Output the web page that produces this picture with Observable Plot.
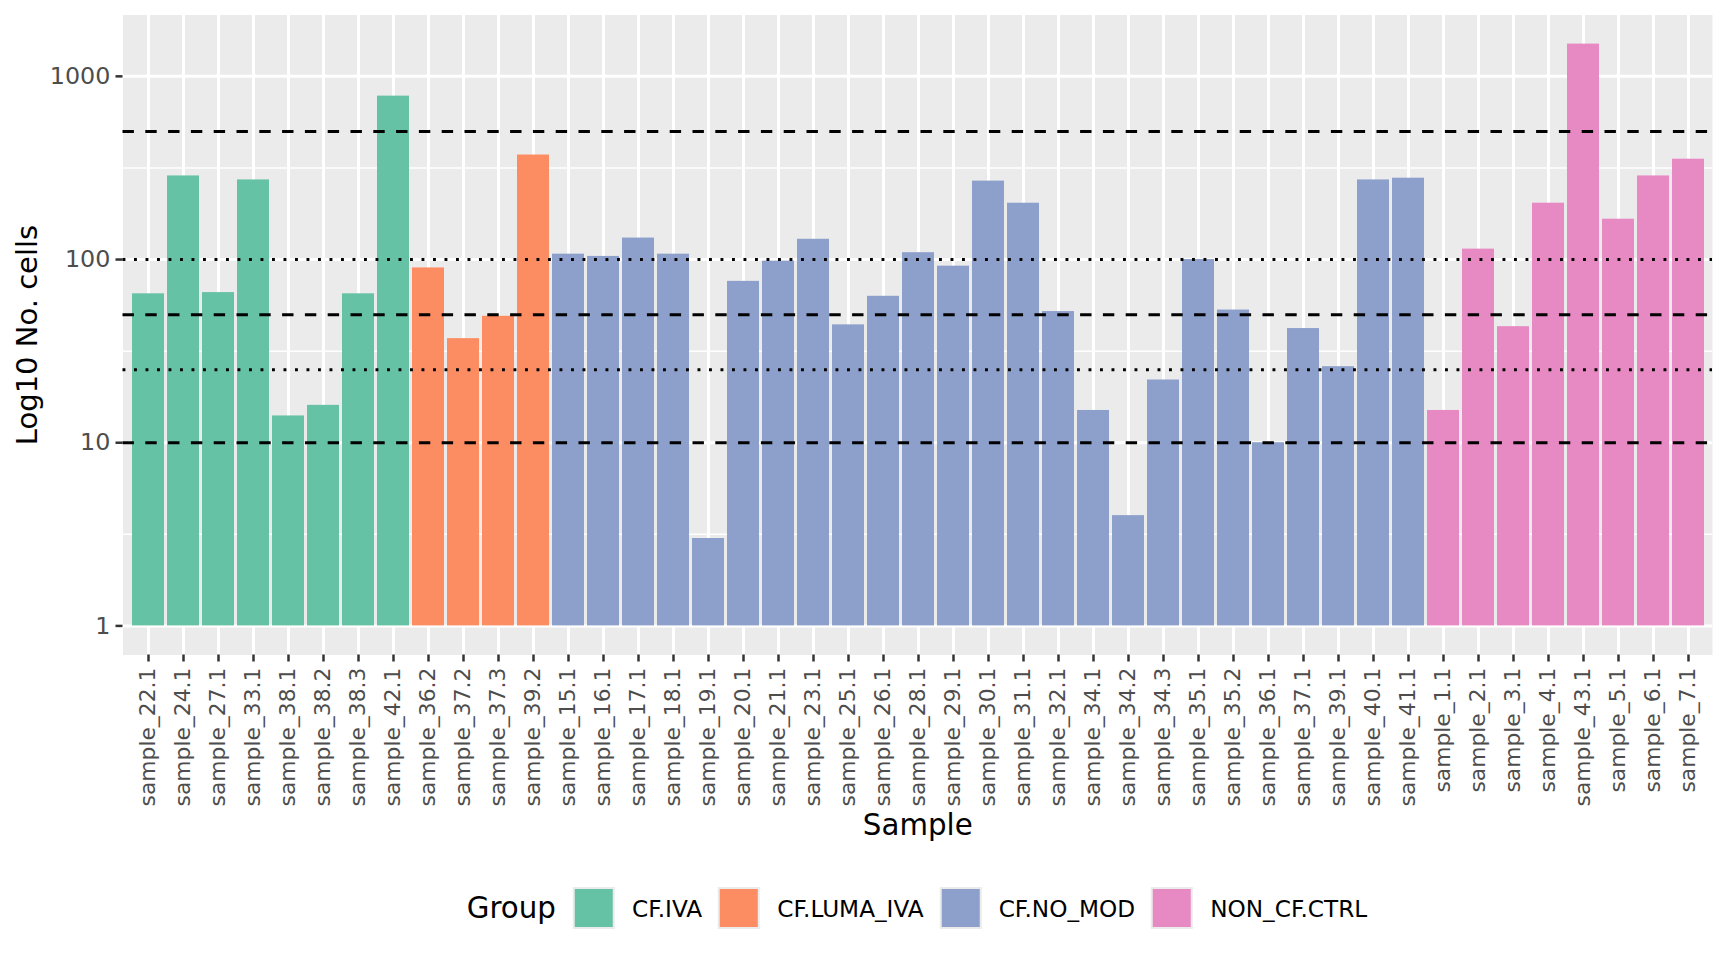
<!DOCTYPE html>
<html>
<head>
<meta charset="utf-8">
<script src="https://cdn.jsdelivr.net/npm/d3@7"></script>
<script src="https://cdn.jsdelivr.net/npm/@observablehq/plot@0.6"></script>
<style>
  html, body { margin: 0; padding: 0; background: #ffffff; }
  body { font-family: "DejaVu Sans", sans-serif; }
  #wrap { position: relative; width: 1728px; height: 960px; overflow: hidden; background: #fff; }
  #wrap svg { position: absolute; left: 0; top: 0; }
  #legend { position: absolute; top: 887px; left: 917px; transform: translateX(-50%);
            display: flex; align-items: center; white-space: nowrap; }
  #legend .ttl { font-size: 29.3px; color: #000; margin-right: 17px; }
  #legend .key { width: 42px; height: 42px; background: #EBEBEB; padding: 2px; box-sizing: border-box; }
  #legend .key div { width: 100%; height: 100%; }
  #legend .lab { font-size: 23.2px; color: #000; margin-left: 17px; margin-right: 16px; }
  #legend .lab.last { margin-right: 0; }
</style>
</head>
<body>
<div id="wrap"></div>
<script>
// ---- data ----
const samples = [
  "sample_22.1","sample_24.1","sample_27.1","sample_33.1","sample_38.1","sample_38.2","sample_38.3","sample_42.1",
  "sample_36.2","sample_37.2","sample_37.3","sample_39.2",
  "sample_15.1","sample_16.1","sample_17.1","sample_18.1","sample_19.1","sample_20.1","sample_21.1","sample_23.1",
  "sample_25.1","sample_26.1","sample_28.1","sample_29.1","sample_30.1","sample_31.1","sample_32.1","sample_34.1",
  "sample_34.2","sample_34.3","sample_35.1","sample_35.2","sample_36.1","sample_37.1","sample_39.1","sample_40.1","sample_41.1",
  "sample_1.1","sample_2.1","sample_3.1","sample_4.1","sample_43.1","sample_5.1","sample_6.1","sample_7.1"
];
const sampleGroups = [
  "CF.IVA","CF.IVA","CF.IVA","CF.IVA","CF.IVA","CF.IVA","CF.IVA","CF.IVA",
  "CF.LUMA_IVA","CF.LUMA_IVA","CF.LUMA_IVA","CF.LUMA_IVA",
  "CF.NO_MOD","CF.NO_MOD","CF.NO_MOD","CF.NO_MOD","CF.NO_MOD","CF.NO_MOD","CF.NO_MOD","CF.NO_MOD",
  "CF.NO_MOD","CF.NO_MOD","CF.NO_MOD","CF.NO_MOD","CF.NO_MOD","CF.NO_MOD","CF.NO_MOD","CF.NO_MOD",
  "CF.NO_MOD","CF.NO_MOD","CF.NO_MOD","CF.NO_MOD","CF.NO_MOD","CF.NO_MOD","CF.NO_MOD","CF.NO_MOD","CF.NO_MOD",
  "NON_CF.CTRL","NON_CF.CTRL","NON_CF.CTRL","NON_CF.CTRL","NON_CF.CTRL","NON_CF.CTRL","NON_CF.CTRL","NON_CF.CTRL"
];
const cellCounts = [
  65, 286, 66, 272, 14, 16, 65, 780,
  90, 37, 49, 372,
  107, 104, 131, 107, 3, 76, 98, 129,
  44, 63, 109, 92, 268, 203, 52, 15,
  4, 22, 100, 53, 10, 42, 26, 272, 278,
  15, 114, 43, 203, 1500, 166, 286, 353
];
const groupNames = ["CF.IVA", "CF.LUMA_IVA", "CF.NO_MOD", "NON_CF.CTRL"];
const groupColors = ["#66C2A5", "#FC8D62", "#8DA0CB", "#E78AC3"];
const yTicks = [1, 10, 100, 1000];
const yMinorTicks = [Math.pow(10, 0.5), Math.pow(10, 1.5), Math.pow(10, 2.5)];
const dashedRefs = [10, 50, 500];
const dottedRefs = [25, 100];
const yTitle = "Log10 No. cells";
const xTitle = "Sample";
const legendTitle = "Group";

// ---- build ----
const data = samples.map((s, i) => ({sample: s, group: sampleGroups[i], value: cellCounts[i]}));

// ggplot-like 5% expansion in log space, bars based at 1
const lo = 0, hi = Math.log10(d3.max(cellCounts));
const ex = 0.05 * (hi - lo);
const yDomain = [Math.pow(10, lo - ex), Math.pow(10, hi + ex)];

const W = 1728, H = 960;
const mL = 122.5, mR = 16, mT = 14.5, mB = 305.5;

const chart = Plot.plot({
  width: W, height: H,
  marginLeft: mL, marginRight: mR, marginTop: mT, marginBottom: mB,
  style: {fontFamily: "DejaVu Sans", background: "transparent", overflow: "visible"},
  x: {type: "band", domain: samples, paddingInner: 0.1, paddingOuter: 0.15, axis: null},
  y: {type: "log", domain: yDomain, axis: null},
  color: {domain: groupNames, range: groupColors},
  marks: [
    Plot.frame({fill: "#EBEBEB", stroke: null}),
    Plot.ruleY(yMinorTicks, {stroke: "#ffffff", strokeWidth: 1.5}),
    Plot.ruleY(yTicks, {stroke: "#ffffff", strokeWidth: 3}),
    Plot.ruleX(samples, {x: d => d, stroke: "#ffffff", strokeWidth: 3}),
    Plot.barY(data, {x: "sample", y1: 1, y2: "value", fill: "group"}),
    Plot.ruleY(dottedRefs, {stroke: "#000000", strokeWidth: 2.9, strokeDasharray: "2.9,8.6"}),
    Plot.ruleY(dashedRefs, {stroke: "#000000", strokeWidth: 2.9, strokeDasharray: "11.4,11.4"}),
    Plot.axisY({ticks: yTicks, tickFormat: d => String(d), tickSize: 7, tickPadding: 5.7,
      fontSize: 23.8, stroke: "#333333", fill: "#4D4D4D", strokeWidth: 2.5, label: null}),
    Plot.axisX({tickSize: 7, tickPadding: 5.7, tickRotate: -90, textAnchor: "end", lineAnchor: "middle",
      fontSize: 21.8, stroke: "#333333", fill: "#4D4D4D", strokeWidth: 2.5, label: null}),
    Plot.text([yTitle], {frameAnchor: "left", dx: -95.5, rotate: -90, textAnchor: "middle", lineAnchor: "middle",
      fontSize: 29, fill: "#000000", text: d => d}),
    Plot.text([xTitle], {frameAnchor: "bottom", dy: 171, textAnchor: "middle", lineAnchor: "middle",
      fontSize: 29.3, fill: "#000000", text: d => d})
  ]
});

const wrap = document.getElementById("wrap");
wrap.appendChild(chart);

// legend
const legend = document.createElement("div");
legend.id = "legend";
const ttl = document.createElement("span");
ttl.className = "ttl";
ttl.textContent = legendTitle;
legend.appendChild(ttl);
groupNames.forEach((g, i) => {
  const key = document.createElement("div");
  key.className = "key";
  const sw = document.createElement("div");
  sw.style.background = groupColors[i];
  key.appendChild(sw);
  legend.appendChild(key);
  const lab = document.createElement("span");
  lab.className = "lab" + (i === groupNames.length - 1 ? " last" : "");
  lab.textContent = g;
  legend.appendChild(lab);
});
wrap.appendChild(legend);
</script>
</body>
</html>
